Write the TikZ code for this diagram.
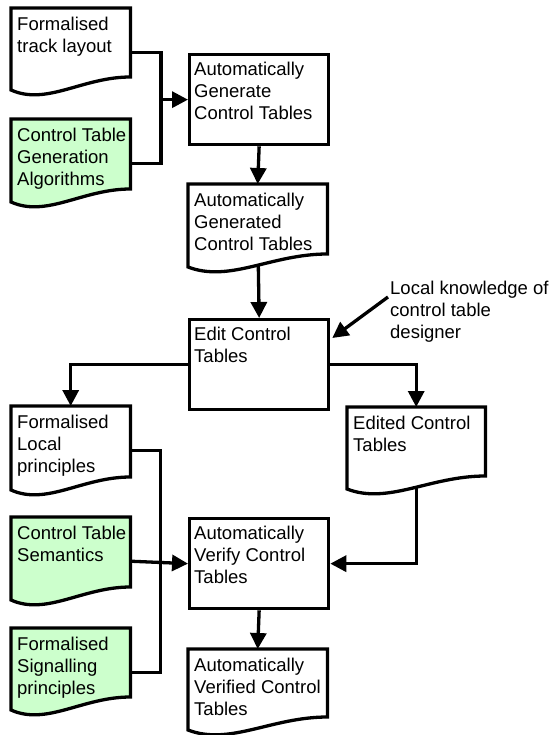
\documentclass[tikz,border=0pt]{standalone}
\usepackage{fontspec}
\setmainfont{Liberation Sans}
\usetikzlibrary{arrows.meta,calc}
\pgfdeclarelayer{conn}
\pgfdeclarelayer{shape}
\pgfsetlayers{conn,shape,main}
\definecolor{docgreen}{RGB}{204,255,204}
\tikzset{
  txt/.style={anchor=north west, inner sep=0pt, align=left, font=\fontsize{18.5}{22}\selectfont},
  procbox/.style={draw, line width=3.3pt, anchor=north west, inner sep=0pt, minimum width=139pt, minimum height=90pt},
  docanchor/.style={anchor=north west, inner sep=0pt, minimum height=88pt},
  conline/.style={line width=3.3pt},
  arr/.style={line width=3.3pt, -{Triangle[length=16pt,width=16pt]}}
}
% name, left, top, width, height-to-left-bottom, fill, text
\newcommand{\mydoc}[7]{%
  \node[docanchor, minimum width=#4pt] (#1) at (#2,#3) {};
  \node[txt] (#1t) at ($(#1.north west)+(6,9)$) {\rule{0pt}{13.5pt}#7};
  \begin{pgfonlayer}{shape}
    \filldraw[fill=#6, line width=3.3pt] (#1.north west) -- (#1.north east)
      -- ($(#1.north east)+(0,#5-13)$)
      .. controls ($(#1.north west)+(0.6*#4,#5-13)$) and ($(#1.north west)+(0.3*#4,#5+16)$)
      .. ($(#1.north west)+(0,#5)$) -- cycle;
  \end{pgfonlayer}}
\newcommand{\mybox}[4]{%
  \node[procbox] (#1) at (#2,#3) {};
  \node[txt] (#1t) at ($(#1.north west)+(6,9)$) {\rule{0pt}{13.5pt}#4};}
\begin{document}
\begin{tikzpicture}[x=1pt,y=-1pt]
\useasboundingbox (0,0) rectangle (551,735);
% documents
\mydoc{A}{11}{8}{119}{82}{white}{Formalised\\track layout}
\mydoc{B}{11}{119}{119}{83}{docgreen}{Control Table\\Generation\\Algorithms}
\mydoc{C}{188}{184}{139}{83}{white}{Automatically\\Generated\\Control Tables}
\mydoc{D}{347}{407}{138}{82}{white}{Edited Control\\Tables}
\mydoc{L}{11}{406}{119}{84}{white}{Formalised\\Local\\principles}
\mydoc{S}{11}{517}{119}{83}{docgreen}{Control Table\\Semantics}
\mydoc{P}{11}{628}{119}{82}{docgreen}{Formalised\\Signalling\\principles}
\mydoc{F}{188}{649}{139}{81}{white}{Automatically\\Verified Control\\Tables}
% process boxes
\mybox{G}{188}{53}{Automatically\\Generate\\Control Tables}
\mybox{E}{188}{318}{Edit Control\\Tables}
\mybox{V}{188}{517}{Automatically\\Verify Control\\Tables}
% annotation
\node[txt] (K) at (390,280.5) {\rule{0pt}{13.5pt}Local knowledge of\\control table\\designer};
\coordinate (kstart) at (388,297);
\coordinate (kend) at ($(E.north east)+(2,20)$);
\coordinate (jA) at ($(G.west)+(-27,0)$);
\coordinate (jS) at ($(S.east)+(30,0)$);
% connectors
\begin{pgfonlayer}{conn}
\draw[conline] (A.east) -| (jA) |- (B.east);
\draw[arr] (jA) -- (G.west);
\draw[arr] (G.south) -- (C.north);
\draw[arr] (C.center) -- (E.north);
\draw[arr] (kstart) -- (kend);
\draw[arr] (E.west) -| (L.north);
\draw[arr] (E.east) -| (D.north);
\draw[conline] (L.east) -| (jS) |- (P.east);
\draw[arr] (S.east) -- (V.west);
\draw[arr] (D.center) |- (V.east);
\draw[arr] (V.south) -- (F.north);
\end{pgfonlayer}
\end{tikzpicture}
\end{document}
